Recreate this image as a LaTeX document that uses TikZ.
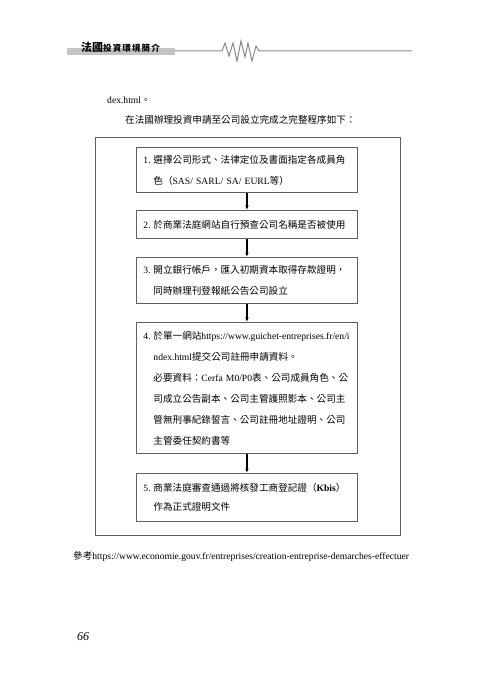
\documentclass[tikz,border=0pt]{standalone}
\usepackage{fontspec}
\setmainfont{Liberation Serif}
\newfontfamily\cjk{Noto Sans CJK TC}
\usetikzlibrary{arrows.meta}
\newcommand{\zhc}[1]{{\cjk #1}}
\newcommand{\numlab}[1]{\makebox[10pt][l]{#1}}
\newcommand{\hind}{\hspace*{10pt}}
\definecolor{boxline}{HTML}{606060}
\definecolor{barfill}{HTML}{C4C4C4}
\definecolor{hdrline}{HTML}{8A8A8A}
\tikzset{
  stepbox/.style={draw=boxline, line width=0.9pt, rectangle, minimum width=221pt,
    text width=207pt, inner xsep=7pt, align=left, anchor=north west,
    font=\fontsize{9.6}{21}\selectfont},
  flowarr/.style={-{Latex[length=4.5pt,width=3.6pt]}, line width=1.4pt, black},
  bodytext/.style={anchor=west, inner sep=0pt, font=\fontsize{9.6}{12}\selectfont},
}
\begin{document}
\begin{tikzpicture}[x=1pt,y=-1pt]
\useasboundingbox (0,0) rectangle (480,679);
% header
\fill[barfill] (67,48) rectangle (175,55);
\node[anchor=west, inner sep=0pt] (hdr) at (81,47) {\cjk\bfseries{\fontsize{11}{12}\selectfont 法國}{\fontsize{8.6}{10}\selectfont\addfontfeature{LetterSpace=12} 投資環境簡介}};
\draw[hdrline, line width=1pt] (175,51) -- (222,51) -- (225,43) -- (229,56) -- (233,43) -- (237,61) -- (241,41) -- (245,57) -- (248,43) -- (252,61) -- (256,46) -- (259,51) -- (412,51);
% intro
\node[bodytext] (t0) at (107,100) {dex.html\zhc{。}};
\node[bodytext] (t1) at (125,120) {\zhc{在法國辦理投資申請至公司設立完成之完整程序如下：}};
% outer frame
\draw[boxline, line width=0.9pt] (95,137) rectangle (400,535);
% steps
\node[stepbox, minimum height=45pt] (b1) at (136,147) {\numlab{1.}\zhc{選擇公司形式、法律定位及書面指定各成員角}\\\hind\zhc{色（}SAS/ SARL/ SA/ EURL\zhc{等）}};
\node[stepbox, minimum height=28pt] (b2) at (136,210) {\numlab{2.}\zhc{於商業法庭網站自行預查公司名稱是否被使用}};
\node[stepbox, minimum height=46pt] (b3) at (136,257) {\numlab{3.}\zhc{開立銀行帳戶，匯入初期資本取得存款證明，}\\\hind\zhc{同時辦理刊登報紙公告公司設立}};
\node[stepbox, minimum height=131pt] (b4) at (136,322) {\numlab{4.}\zhc{於單一網站}https://www.guichet-entreprises.fr/en/i\\\hind ndex.html\zhc{提交公司註冊申請資料。}\\\hind\zhc{必要資料：}Cerfa M0/P0\zhc{表、公司成員角色、公}\\\hind\zhc{司成立公告副本、公司主管護照影本、公司主}\\\hind\zhc{管無刑事紀錄誓言、公司註冊地址證明、公司}\\\hind\zhc{主管委任契約書等}};
\node[stepbox, minimum height=48pt, font=\fontsize{9.6}{19}\selectfont] (b5) at (136,473) {\numlab{5.}\zhc{商業法庭審查通過將核發工商登記證（}\textbf{Kbis}\zhc{）}\\\hind\zhc{作為正式證明文件}};
\draw[flowarr] (b1.south) -- (b2.north);
\draw[flowarr] (b2.south) -- (b3.north);
\draw[flowarr] (b3.south) -- (b4.north);
\draw[flowarr] (b4.south) -- (b5.north);
% footer
\node[bodytext] (ref) at (73,556) {\zhc{參考}https://www.economie.gouv.fr/entreprises/creation-entreprise-demarches-effectuer};
\node[anchor=west, inner sep=0pt, font=\fontsize{12}{14}\selectfont\itshape] (pg) at (77,637) {66};
\end{tikzpicture}
\end{document}
